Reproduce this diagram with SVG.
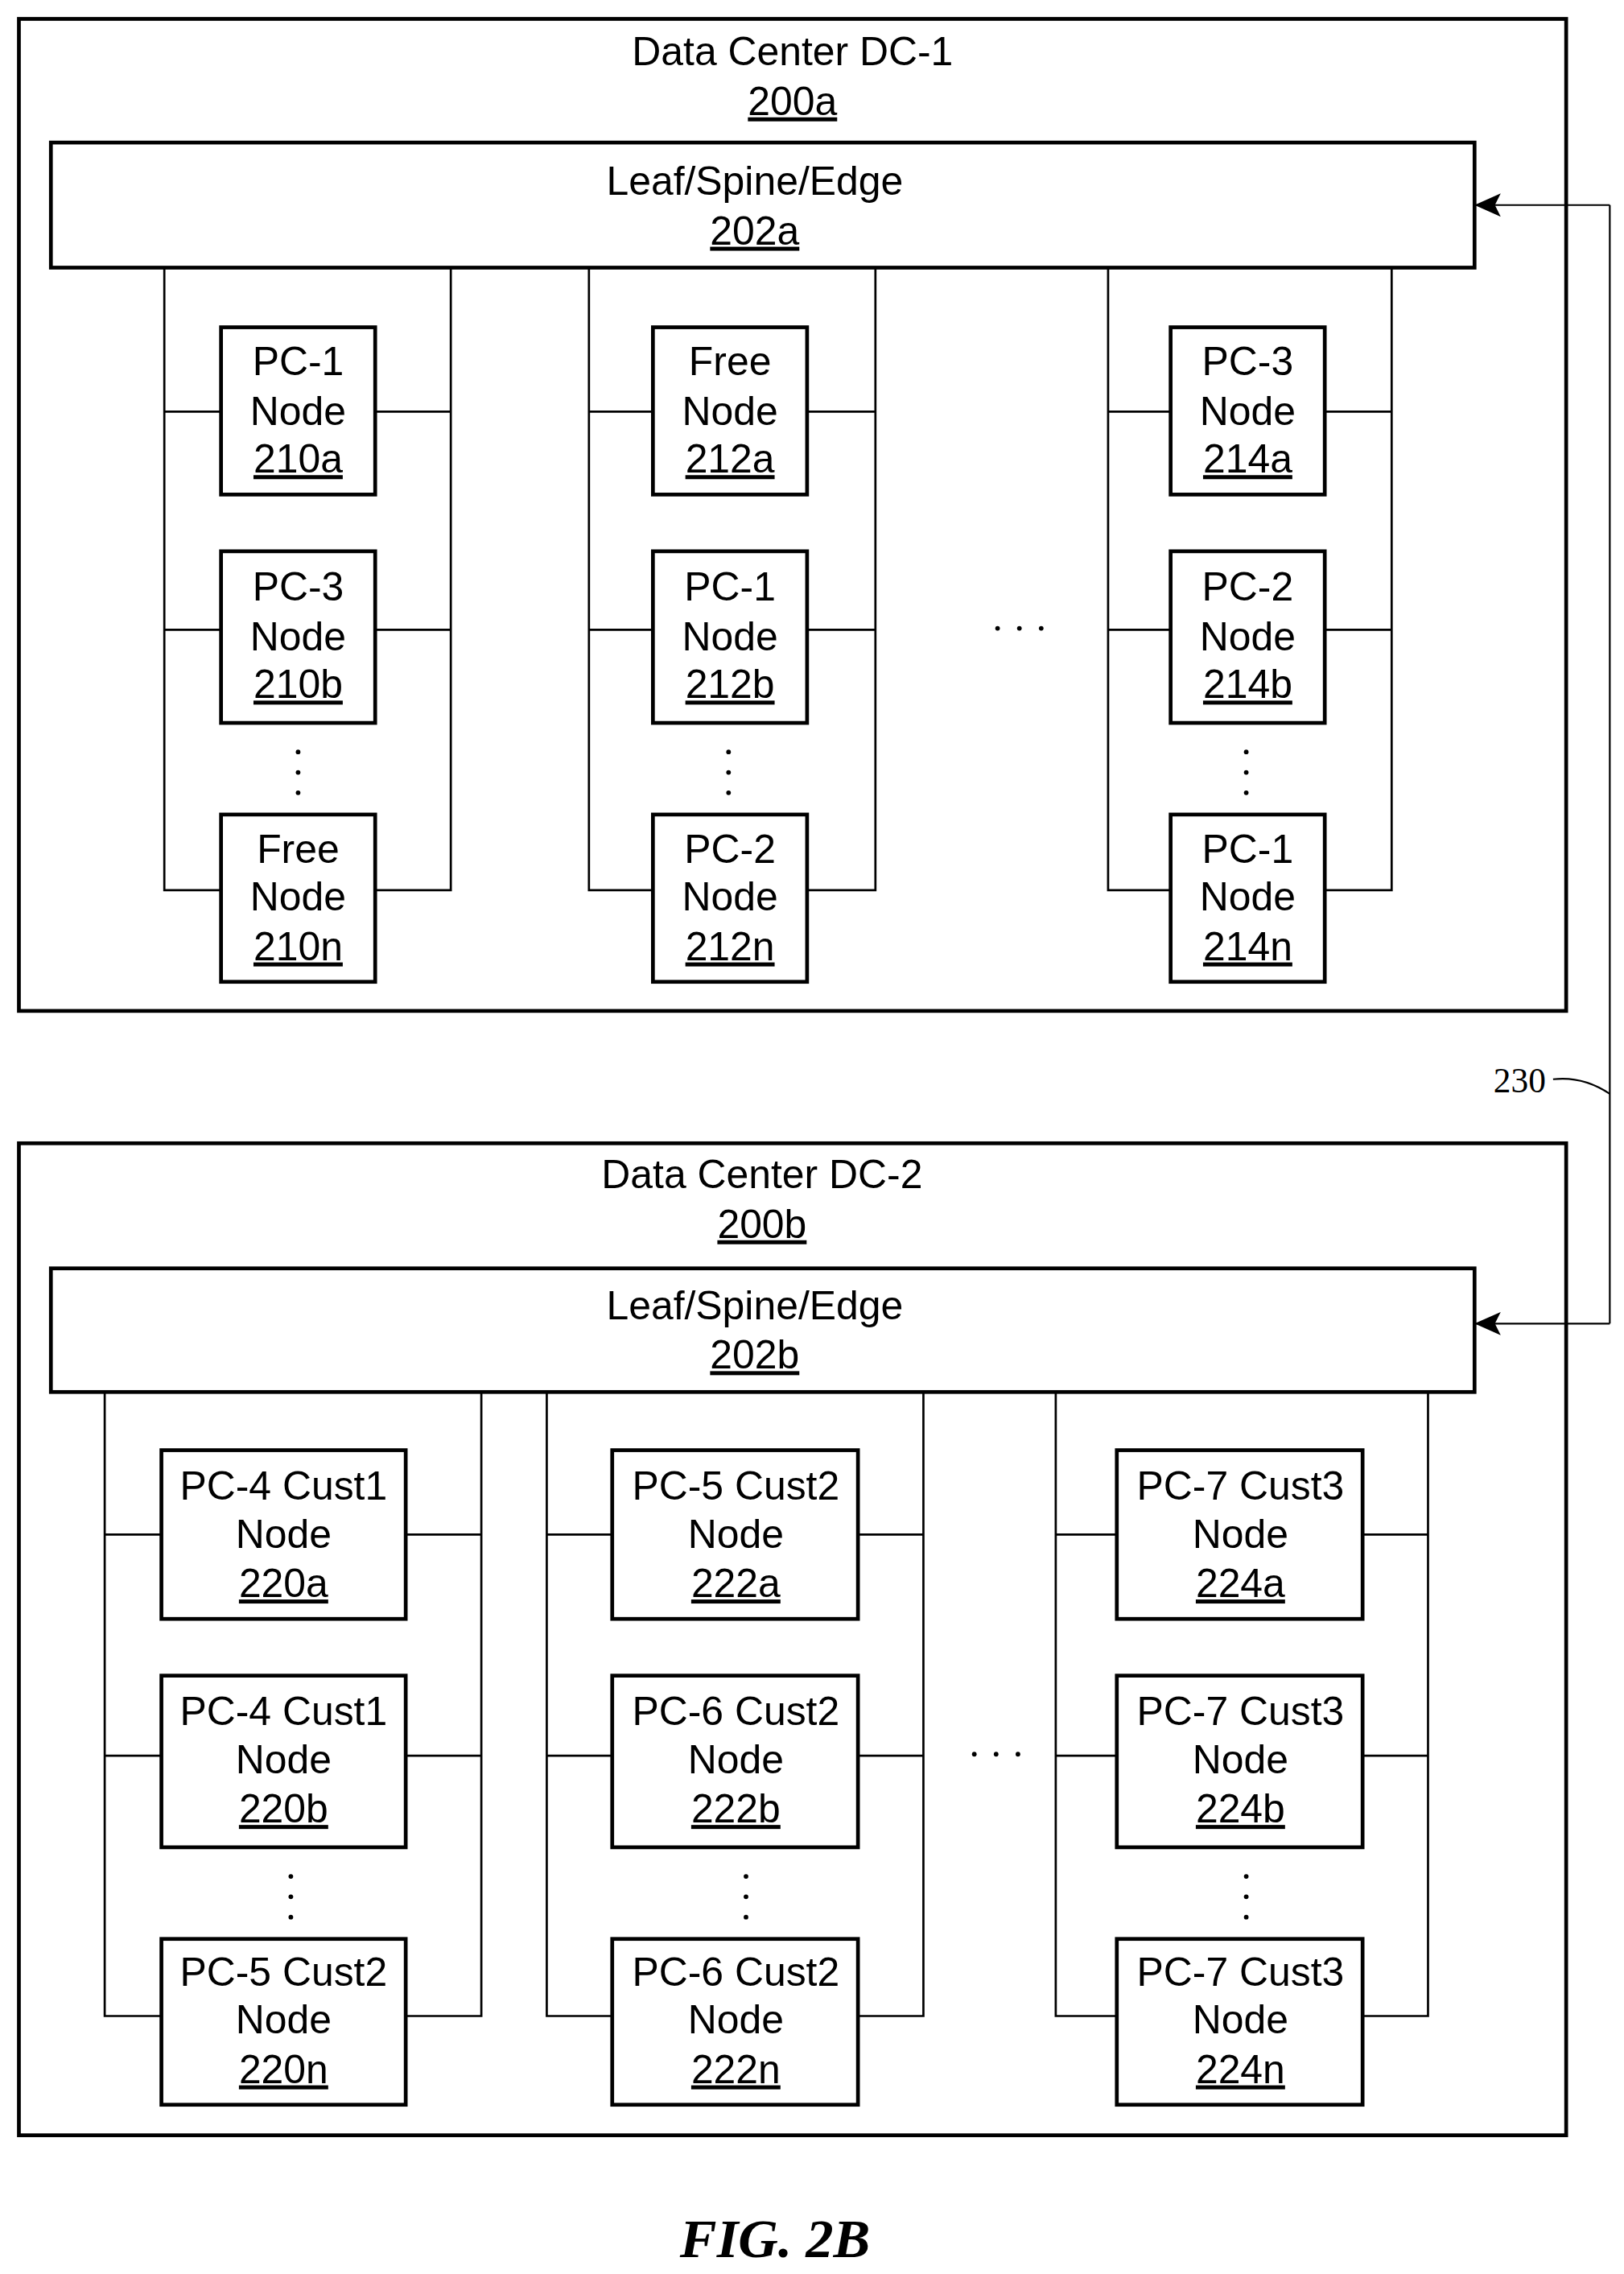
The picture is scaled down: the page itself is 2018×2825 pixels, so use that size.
<svg xmlns="http://www.w3.org/2000/svg" width="2018" height="2825" viewBox="0 0 2018 2825">
<style>
text{font-family:"Liberation Sans",Arial,sans-serif;font-size:27.6px;text-anchor:middle;fill:#000}
.u{text-decoration:underline}
.box{fill:#fff;stroke:#000;stroke-width:2.6}
.ln{fill:none;stroke:#000;stroke-width:1.5}
.th{fill:none;stroke:#000;stroke-width:1.2}
.fig{font-family:"Liberation Serif",serif;font-style:italic;font-weight:bold;font-size:38px}
.lab{font-family:"Liberation Serif",serif;font-size:24px}
</style>
<defs>
<marker id="ah" markerWidth="18" markerHeight="16" refX="17" refY="8" orient="auto" markerUnits="userSpaceOnUse"><path d="M0,0 L18,8 L0,16 L4,8 Z" fill="#000"/></marker>
</defs>
<rect width="2018" height="2825" fill="#fff"/>
<g transform="scale(1.807)">
<g id="dc1">
<rect class="box" x="13" y="13" width="1064" height="682"/>
<text x="545" y="45">Data Center DC-1</text>
<text x="545" y="79" class="u">200a</text>
</g>
<g id="leaf202a">
<rect class="box" x="35" y="98" width="979" height="86"/>
<text x="519" y="134">Leaf/Spine/Edge</text>
<text x="519" y="168" class="u">202a</text>
</g>
<g id="dc2">
<rect class="box" x="13" y="786" width="1064" height="682"/>
<text x="524" y="817">Data Center DC-2</text>
<text x="524" y="851" class="u">200b</text>
</g>
<g id="leaf202b">
<rect class="box" x="35" y="872" width="979" height="85"/>
<text x="519" y="907">Leaf/Spine/Edge</text>
<text x="519" y="941" class="u">202b</text>
</g>
<g id="connectors">
<path class="ln" d="M113,184 V612 H152 M113,283 H152 M113,433 H152 M310,184 V612 H258 M310,283 H258 M310,433 H258"/>
<path class="ln" d="M405,184 V612 H449 M405,283 H449 M405,433 H449 M602,184 V612 H555 M602,283 H555 M602,433 H555"/>
<path class="ln" d="M762,184 V612 H805 M762,283 H805 M762,433 H805 M957,184 V612 H911 M957,283 H911 M957,433 H911"/>
<path class="ln" d="M72,957 V1386 H111 M72,1055 H111 M72,1207 H111 M331,957 V1386 H279 M331,1055 H279 M331,1207 H279"/>
<path class="ln" d="M376,957 V1386 H421 M376,1055 H421 M376,1207 H421 M635,957 V1386 H590 M635,1055 H590 M635,1207 H590"/>
<path class="ln" d="M726,957 V1386 H768 M726,1055 H768 M726,1207 H768 M982,957 V1386 H937 M982,1055 H937 M982,1207 H937"/>
<path class="th" d="M1107,141 V910" />
<path class="th" d="M1107,141 H1015" marker-end="url(#ah)"/>
<path class="th" d="M1107,910 H1015" marker-end="url(#ah)"/>
<path class="th" d="M1068,742 C1085,740 1098,746 1107,752"/>
</g>
<g id="label230"><text class="lab" x="1045" y="751">230</text></g>
<g id="dots" fill="#000">
<circle cx="205" cy="517" r="1.6"/><circle cx="205" cy="531" r="1.6"/><circle cx="205" cy="545" r="1.6"/>
<circle cx="501" cy="517" r="1.6"/><circle cx="501" cy="531" r="1.6"/><circle cx="501" cy="545" r="1.6"/>
<circle cx="857" cy="517" r="1.6"/><circle cx="857" cy="531" r="1.6"/><circle cx="857" cy="545" r="1.6"/>
<circle cx="686" cy="432" r="1.6"/><circle cx="701" cy="432" r="1.6"/><circle cx="716" cy="432" r="1.6"/>
<circle cx="200" cy="1290" r="1.6"/><circle cx="200" cy="1304" r="1.6"/><circle cx="200" cy="1318" r="1.6"/>
<circle cx="513" cy="1290" r="1.6"/><circle cx="513" cy="1304" r="1.6"/><circle cx="513" cy="1318" r="1.6"/>
<circle cx="857" cy="1290" r="1.6"/><circle cx="857" cy="1304" r="1.6"/><circle cx="857" cy="1318" r="1.6"/>
<circle cx="670" cy="1206" r="1.6"/><circle cx="685" cy="1206" r="1.6"/><circle cx="700" cy="1206" r="1.6"/>
</g>
<g id="n210a"><rect class="box" x="152" y="225" width="106" height="115"/><text x="205" y="258">PC-1</text><text x="205" y="292">Node</text><text x="205" y="325" class="u">210a</text></g>
<g id="n210b"><rect class="box" x="152" y="379" width="106" height="118"/><text x="205" y="413">PC-3</text><text x="205" y="447">Node</text><text x="205" y="480" class="u">210b</text></g>
<g id="n210n"><rect class="box" x="152" y="560" width="106" height="115"/><text x="205" y="593">Free</text><text x="205" y="626">Node</text><text x="205" y="660" class="u">210n</text></g>
<g id="n212a"><rect class="box" x="449" y="225" width="106" height="115"/><text x="502" y="258">Free</text><text x="502" y="292">Node</text><text x="502" y="325" class="u">212a</text></g>
<g id="n212b"><rect class="box" x="449" y="379" width="106" height="118"/><text x="502" y="413">PC-1</text><text x="502" y="447">Node</text><text x="502" y="480" class="u">212b</text></g>
<g id="n212n"><rect class="box" x="449" y="560" width="106" height="115"/><text x="502" y="593">PC-2</text><text x="502" y="626">Node</text><text x="502" y="660" class="u">212n</text></g>
<g id="n214a"><rect class="box" x="805" y="225" width="106" height="115"/><text x="858" y="258">PC-3</text><text x="858" y="292">Node</text><text x="858" y="325" class="u">214a</text></g>
<g id="n214b"><rect class="box" x="805" y="379" width="106" height="118"/><text x="858" y="413">PC-2</text><text x="858" y="447">Node</text><text x="858" y="480" class="u">214b</text></g>
<g id="n214n"><rect class="box" x="805" y="560" width="106" height="115"/><text x="858" y="593">PC-1</text><text x="858" y="626">Node</text><text x="858" y="660" class="u">214n</text></g>
<g id="n220a"><rect class="box" x="111" y="997" width="168" height="116"/><text x="195" y="1031">PC-4 Cust1</text><text x="195" y="1064">Node</text><text x="195" y="1098" class="u">220a</text></g>
<g id="n220b"><rect class="box" x="111" y="1152" width="168" height="118"/><text x="195" y="1186">PC-4 Cust1</text><text x="195" y="1219">Node</text><text x="195" y="1253" class="u">220b</text></g>
<g id="n220n"><rect class="box" x="111" y="1333" width="168" height="114"/><text x="195" y="1365">PC-5 Cust2</text><text x="195" y="1398">Node</text><text x="195" y="1432" class="u">220n</text></g>
<g id="n222a"><rect class="box" x="421" y="997" width="169" height="116"/><text x="506" y="1031">PC-5 Cust2</text><text x="506" y="1064">Node</text><text x="506" y="1098" class="u">222a</text></g>
<g id="n222b"><rect class="box" x="421" y="1152" width="169" height="118"/><text x="506" y="1186">PC-6 Cust2</text><text x="506" y="1219">Node</text><text x="506" y="1253" class="u">222b</text></g>
<g id="n222n"><rect class="box" x="421" y="1333" width="169" height="114"/><text x="506" y="1365">PC-6 Cust2</text><text x="506" y="1398">Node</text><text x="506" y="1432" class="u">222n</text></g>
<g id="n224a"><rect class="box" x="768" y="997" width="169" height="116"/><text x="853" y="1031">PC-7 Cust3</text><text x="853" y="1064">Node</text><text x="853" y="1098" class="u">224a</text></g>
<g id="n224b"><rect class="box" x="768" y="1152" width="169" height="118"/><text x="853" y="1186">PC-7 Cust3</text><text x="853" y="1219">Node</text><text x="853" y="1253" class="u">224b</text></g>
<g id="n224n"><rect class="box" x="768" y="1333" width="169" height="114"/><text x="853" y="1365">PC-7 Cust3</text><text x="853" y="1398">Node</text><text x="853" y="1432" class="u">224n</text></g>
<text class="fig" x="533" y="1552">FIG. 2B</text>
</g>
</svg>
